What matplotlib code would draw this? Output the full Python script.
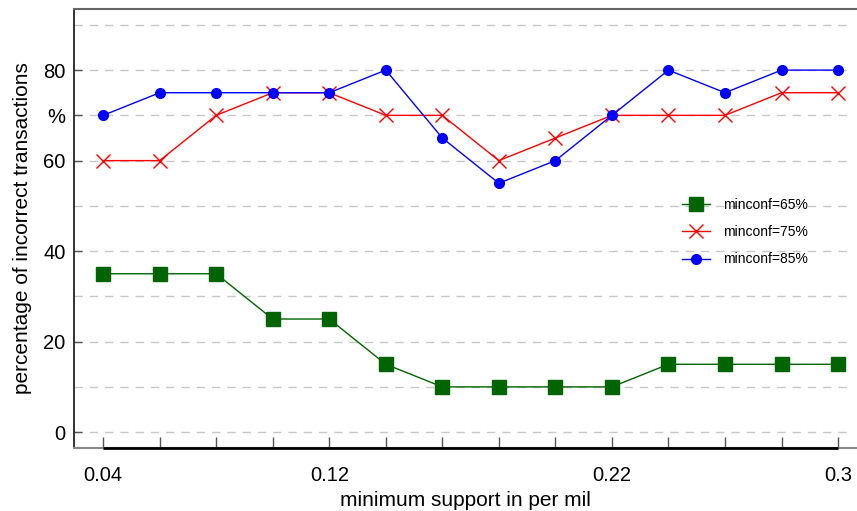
import matplotlib
matplotlib.use("Agg")
import matplotlib.pyplot as plt
import numpy as np

plt.rcParams.update({
    "font.family": ["Liberation Sans", "DejaVu Sans"],
})

# data
support = [0.04, 0.06, 0.08, 0.10, 0.12, 0.14, 0.16, 0.18, 0.20, 0.22, 0.24, 0.26, 0.28, 0.30]
conf65 = [35, 35, 35, 25, 25, 15, 10, 10, 10, 10, 15, 15, 15, 15]
conf75 = [60, 60, 70, 75, 75, 70, 70, 60, 65, 70, 70, 70, 75, 75]
conf85 = [70, 75, 75, 75, 75, 80, 65, 55, 60, 70, 80, 75, 80, 80]

xtick_labels = {0.04: "0.04", 0.12: "0.12", 0.22: "0.22", 0.30: "0.3"}
ytick_pos = [0, 20, 40, 60, 70, 80]
ytick_labels = ["0", "20", "40", "60", "%", "80"]
grid_levels = list(range(0, 100, 10))

C65 = "#006400"
C75 = "#ff0000"
C85 = "#0000ff"

fig = plt.figure(figsize=(8.57, 5.11), dpi=100)
ax = fig.add_axes([74/857, 1-448/511, 783/857, 439/511])

for g in grid_levels:
    ax.axhline(g, xmax=0.99, linestyle=(0, (6, 5)), color="#c8c8c8", linewidth=1, zorder=1)

ax.plot(support, conf65, color=C65, lw=1, marker="s", markersize=10, label="minconf=65%", zorder=3)
ax.plot(support, conf75, color=C75, lw=1, marker="x", markersize=10, markeredgewidth=1, label="minconf=75%", zorder=3)
ax.plot(support, conf85, color=C85, lw=1, marker="o", markersize=7, label="minconf=85%", zorder=4)

ax.set_xlim(0.0297, 0.3067)
ax.set_ylim(-3.5, 93.5)

ax.set_xticks(support)
ax.set_xticklabels([xtick_labels.get(round(s, 2), "") for s in support], fontsize=14.5)
ax.set_yticks(ytick_pos)
ax.set_yticklabels(ytick_labels, fontsize=14.5)
ax.tick_params(axis="x", direction="in", length=8, width=1, color="#555555", pad=13)
ax.tick_params(axis="y", direction="in", length=6, width=1, color="#555555", pad=6)

ax.spines["right"].set_visible(False)
ax.spines["top"].set_color("#666666")
ax.spines["top"].set_linewidth(1.5)
ax.spines["left"].set_color("#222222")
ax.spines["left"].set_linewidth(1.3)
ax.spines["bottom"].set_color("#888888")
ax.spines["bottom"].set_linewidth(1.5)
# heavier axis line spanning the data range
ax.plot([support[0], support[-1]], [ax.get_ylim()[0]] * 2, color="black", lw=2,
        clip_on=False, zorder=5, solid_capstyle="butt")

ax.set_xlabel("minimum support in per mil", fontsize=15, labelpad=4)
ax.set_ylabel("percentage of incorrect transactions", fontsize=15, labelpad=8)

ax.legend(loc="upper left", bbox_to_anchor=(0.761, 0.598), frameon=False, fontsize=10,
          handlelength=2.0, handletextpad=0.9, labelspacing=0.95, borderpad=0.4)

fig.savefig("out.png", dpi=100)
